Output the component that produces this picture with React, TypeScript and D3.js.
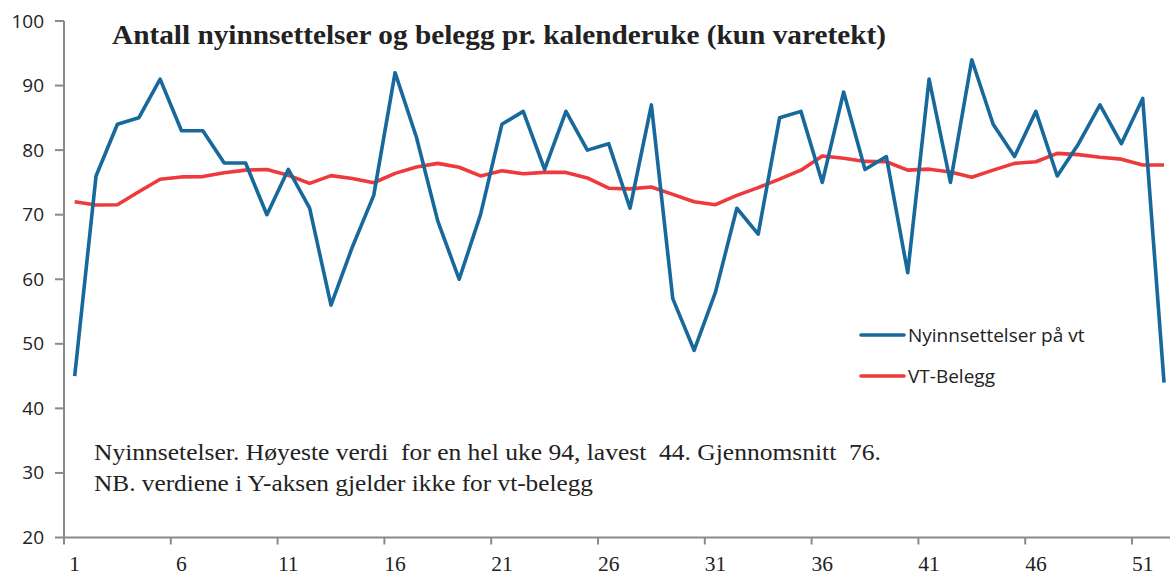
import React from "react";
import * as d3 from "d3";

const weeks: number[] = Array.from({ length: 52 }, (_, i) => i + 1);

const nyinnsettelser: number[] = [
  45, 76, 84, 85, 91, 83, 83, 78, 78, 70,
  77, 71, 56, 65, 73, 92, 82, 69, 60, 70,
  84, 86, 77, 86, 80, 81, 71, 87, 57, 49,
  58, 71, 67, 85, 86, 75, 89, 77, 79, 61,
  91, 75, 94, 84, 79, 86, 76, 81, 87, 81,
  88, 44,
];

const vtBelegg: number[] = [
  72.0, 71.5, 71.55, 73.55, 75.5, 75.85, 75.9, 76.5, 76.9, 77.0,
  76.1, 74.85, 76.05, 75.6, 74.95, 76.4, 77.4, 77.95, 77.35, 76.0,
  76.8, 76.35, 76.55, 76.55, 75.7, 74.1, 74.0, 74.3, 73.15, 72.0,
  71.55, 73.0, 74.2, 75.5, 76.9, 79.1, 78.75, 78.25, 78.2, 76.9,
  77.05, 76.6, 75.8, 76.9, 77.95, 78.2, 79.5, 79.3, 78.9, 78.6,
  77.7, 77.7,
];

const yTicks: number[] = [20, 30, 40, 50, 60, 70, 80, 90, 100];
const xTickLabels: number[] = [1, 6, 11, 16, 21, 26, 31, 36, 41, 46, 51];

const title = "Antall nyinnsettelser og belegg pr. kalenderuke (kun varetekt)";
const noteLine1 = "Nyinnsetelser. Høyeste verdi  for en hel uke 94, lavest  44. Gjennomsnitt  76.";
const noteLine2 = "NB. verdiene i Y-aksen gjelder ikke for vt-belegg";
const seriesNames = ["Nyinnsettelser på vt", "VT-Belegg"];

const BLUE = "#17699b";
const RED = "#ee3a3d";
const AXIS = "#8a8a8a";

export default function App() {
  const W = 1170;
  const H = 576;
  const left = 64;
  const step = 21.36;
  const x = d3
    .scaleBand<number>()
    .domain(weeks)
    .range([left, left + step * weeks.length])
    .paddingInner(0)
    .paddingOuter(0);
  const y = d3.scaleLinear().domain([20, 100]).range([537.5, 21]);
  const cx = (w: number) => (x(w) as number) + x.bandwidth() / 2;

  const line = d3
    .line<number>()
    .x((_, i) => cx(weeks[i]))
    .y((d) => y(d));

  const sans = "'Open Sans', sans-serif";
  const serif = "'Liberation Serif', 'Times New Roman', serif";

  return (
    <svg
      width={W}
      height={H}
      style={{ position: "absolute", left: 0, top: 0, background: "#fff" }}
    >
      {/* y axis */}
      <line x1={left} x2={left} y1={y(100)} y2={y(20)} stroke={AXIS} strokeWidth={2} />
      {yTicks.map((t) => (
        <g key={t}>
          <line x1={left - 9} x2={left} y1={y(t)} y2={y(t)} stroke={AXIS} strokeWidth={2} />
          <text
            x={44}
            y={y(t) + 6.5}
            textAnchor="end"
            fontFamily={sans}
            fontSize={19}
            fill="#222"
          >
            {t}
          </text>
        </g>
      ))}
      {/* x axis */}
      <line x1={left} x2={W} y1={y(20)} y2={y(20)} stroke={AXIS} strokeWidth={2} />
      {xTickLabels.map((w) => (
        <g key={w}>
          <line
            x1={x(w) as number}
            x2={x(w) as number}
            y1={y(20)}
            y2={y(20) + 7}
            stroke={AXIS}
            strokeWidth={2}
          />
          <text
            x={cx(w)}
            y={571}
            textAnchor="middle"
            fontFamily={serif}
            fontSize={21.5}
            fill="#222"
          >
            {w}
          </text>
        </g>
      ))}

      {/* series */}
      <path d={line(vtBelegg) || ""} fill="none" stroke={RED} strokeWidth={3.6} strokeLinejoin="round" />
      <path d={line(nyinnsettelser) || ""} fill="none" stroke={BLUE} strokeWidth={3.6} strokeLinejoin="round" />

      {/* title */}
      <text
        x={112}
        y={44}
        fontFamily={serif}
        fontWeight="bold"
        fontSize={27}
        fill="#222"
        textLength={774}
        lengthAdjust="spacingAndGlyphs"
      >
        {title}
      </text>

      {/* note */}
      <text
        x={94}
        y={460}
        fontFamily={serif}
        fontSize={22.5}
        fill="#222"
        style={{ whiteSpace: "pre" }}
        textLength={787}
        lengthAdjust="spacingAndGlyphs"
      >
        {noteLine1}
      </text>
      <text
        x={94}
        y={491}
        fontFamily={serif}
        fontSize={22.5}
        fill="#222"
        style={{ whiteSpace: "pre" }}
        textLength={499}
        lengthAdjust="spacingAndGlyphs"
      >
        {noteLine2}
      </text>

      {/* legend */}
      <line x1={861} x2={904} y1={335} y2={335} stroke={BLUE} strokeWidth={3.6} strokeLinecap="round" />
      <text x={908} y={341.5} fontFamily={sans} fontSize={19} fill="#222">
        {seriesNames[0]}
      </text>
      <line x1={861} x2={904} y1={376} y2={376} stroke={RED} strokeWidth={3.6} strokeLinecap="round" />
      <text x={908} y={382.5} fontFamily={sans} fontSize={19} fill="#222">
        {seriesNames[1]}
      </text>
    </svg>
  );
}
